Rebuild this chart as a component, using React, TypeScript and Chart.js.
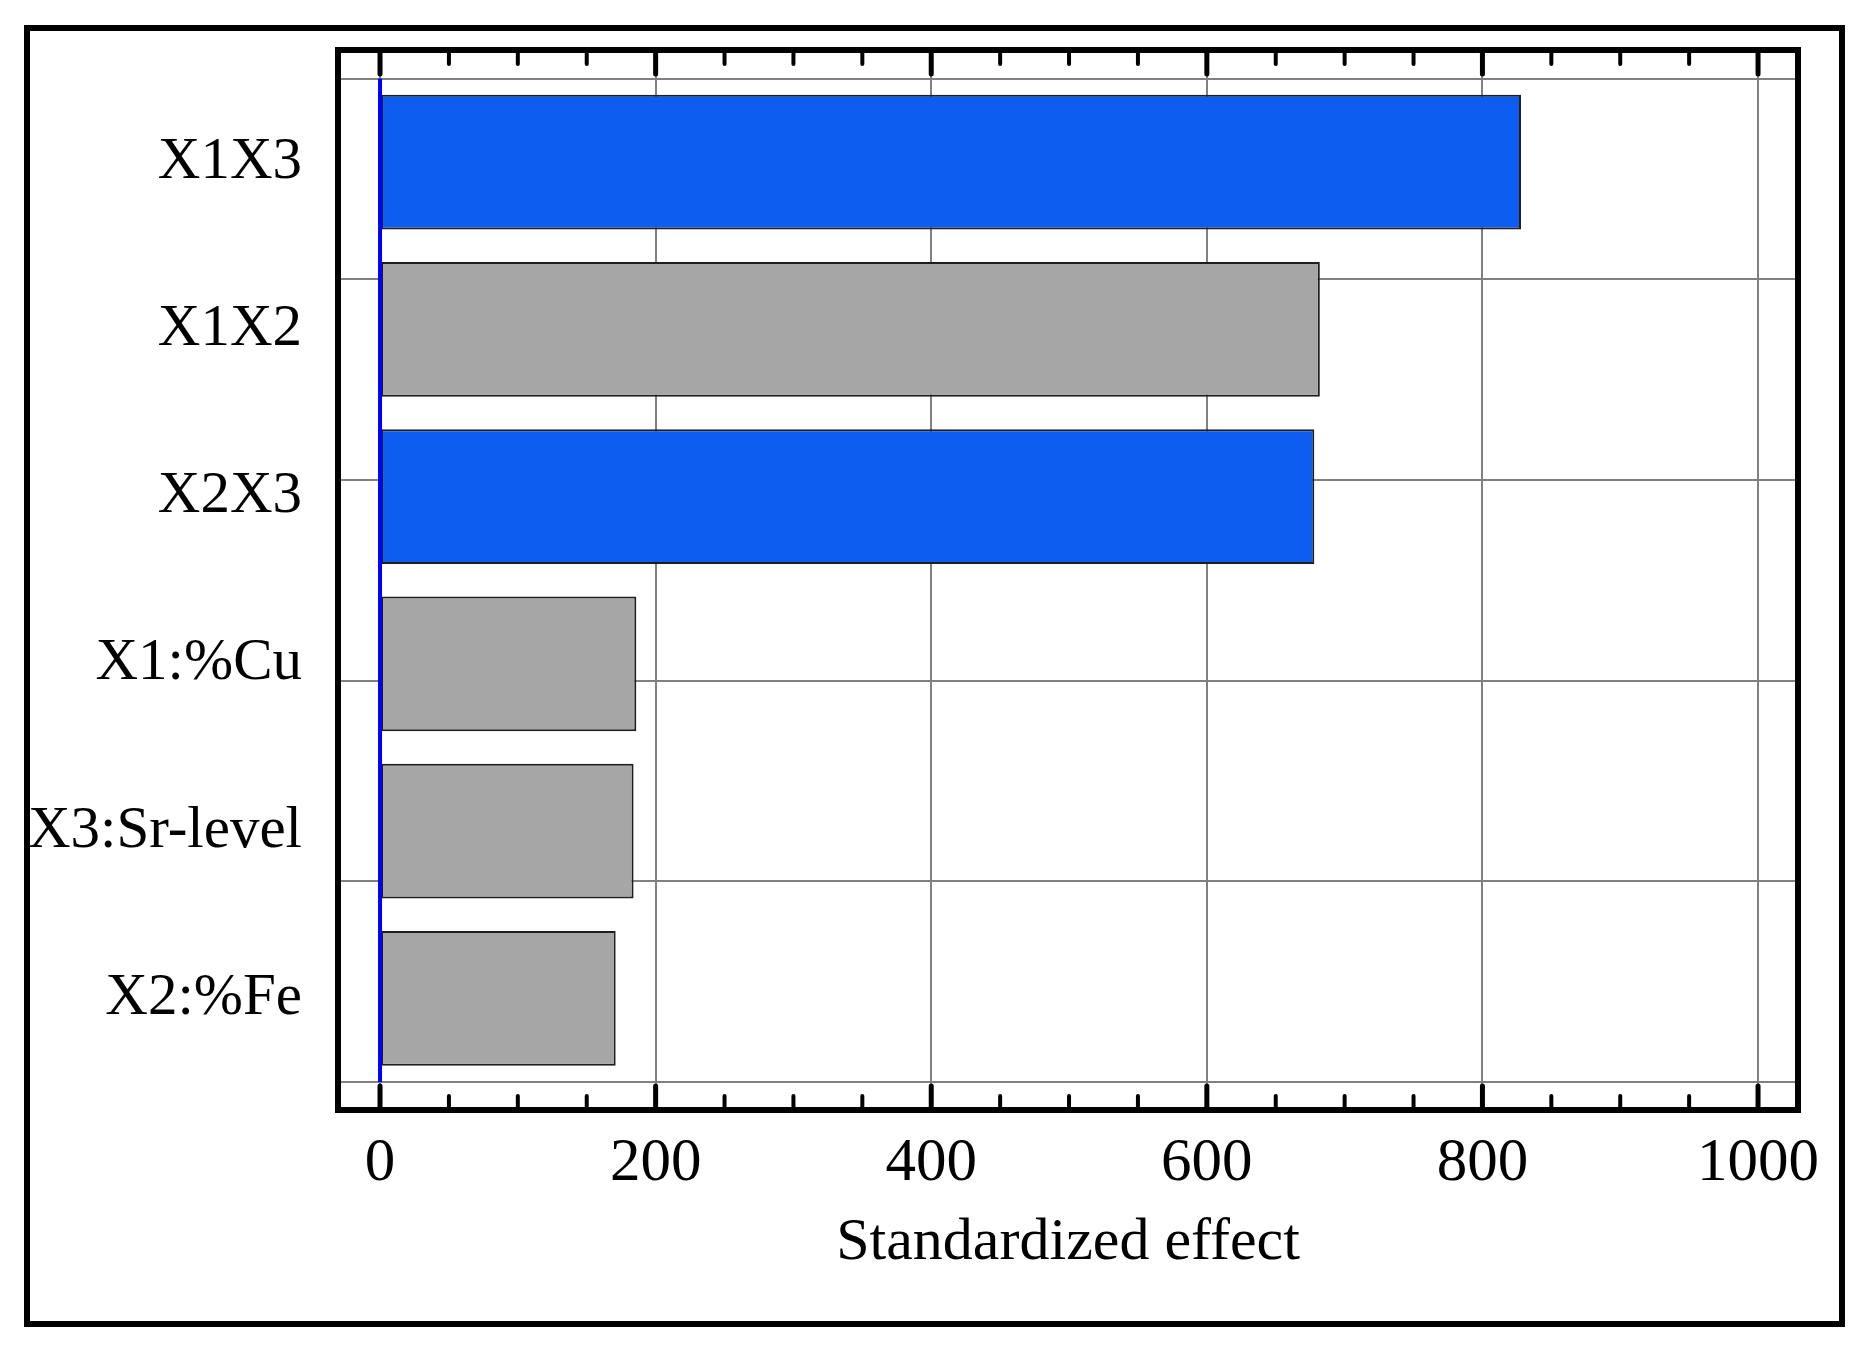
import React, { useEffect, useRef } from "react";
import { Chart, registerables } from "chart.js";

Chart.register(...registerables);

const categories = ["X1X3", "X1X2", "X2X3", "X1:%Cu", "X3:Sr-level", "X2:%Fe"];
const effects = [828, 682, 678, 186, 184, 171];
const barColors = ["#0d5ef0", "#a6a6a6", "#0d5ef0", "#a6a6a6", "#a6a6a6", "#a6a6a6"];
const xTickValues = [0, 200, 400, 600, 800, 1000];
const xMinorStep = 50;
const xMin = -30.5;
const xMax = 1029;
const hGridDivisions = 5;
const xTitle = "Standardized effect";

const FONT = "'Liberation Serif', 'Times New Roman', serif";

const zeroPad = (scale: any) => {
  scale.paddingTop = 0;
  scale.paddingBottom = 0;
  scale.paddingLeft = 0;
  scale.paddingRight = 0;
};

const framePlugin = {
  id: "framePlugin",
  beforeDraw(chart: any) {
    const ctx = chart.ctx;
    ctx.save();
    ctx.fillStyle = "#ffffff";
    ctx.fillRect(0, 0, chart.width, chart.height);
    ctx.restore();
  },
  afterDatasetsDraw(chart: any) {
    const ctx = chart.ctx;
    const { left, right, top, bottom } = chart.chartArea;
    const xs = chart.scales.x;
    const ys = chart.scales.y;
    ctx.save();
    // zero line
    const x0 = xs.getPixelForValue(0);
    ctx.strokeStyle = "#0000ff";
    ctx.lineWidth = 4;
    ctx.beginPath();
    ctx.moveTo(x0, ys.getPixelForValue(-0.5));
    ctx.lineTo(x0, ys.getPixelForValue(categories.length - 0.5));
    ctx.stroke();

    // plot frame
    ctx.strokeStyle = "#000000";
    ctx.lineWidth = 6;
    ctx.strokeRect(left, top, right - left, bottom - top);

    // ticks inside frame (top and bottom)
    ctx.lineCap = "round";
    const first = xTickValues[0];
    const last = xTickValues[xTickValues.length - 1];
    for (let v = first; v <= last; v += xMinorStep) {
      const major = xTickValues.includes(v);
      const len = major ? 21 : 11;
      const px = xs.getPixelForValue(v);
      ctx.lineWidth = major ? 5 : 4;
      ctx.beginPath();
      ctx.moveTo(px, top + 3);
      ctx.lineTo(px, top + 3 + len);
      ctx.stroke();
      ctx.beginPath();
      ctx.moveTo(px, bottom - 3);
      ctx.lineTo(px, bottom - 3 - len);
      ctx.stroke();
    }

    // outer border
    ctx.lineCap = "butt";
    ctx.lineWidth = 6;
    ctx.strokeRect(27, 28, 1842 - 27, 1324 - 28);
    ctx.restore();
  },
};

export default function App() {
  const ref = useRef<HTMLCanvasElement | null>(null);

  useEffect(() => {
    if (!ref.current) return;
    const yMin = -0.5 - 0.1705;
    const yMax = categories.length - 0.5 + 0.1675;
    const chart = new Chart(ref.current, {
      type: "bar",
      data: {
        datasets: [
          {
            data: effects.map((v, i) => ({ x: v, y: i })),
            backgroundColor: barColors,
            borderColor: "#1e1e1e",
            borderWidth: 2,
            borderSkipped: false,
            barPercentage: 0.805,
            categoryPercentage: 1,
          },
        ],
      },
      options: {
        animation: false,
        responsive: false,
        indexAxis: "y",
        layout: { padding: { left: 0, right: 0, top: 50, bottom: 0 } },
        plugins: {
          legend: { display: false },
          tooltip: { enabled: false },
        },
        scales: {
          x: {
            type: "linear",
            position: "bottom",
            min: xMin,
            max: xMax,
            offset: false,
            afterBuildTicks: (scale: any) => {
              scale.ticks = xTickValues.map((v) => ({ value: v }));
            },
            afterFit: (scale: any) => {
              scale.height = 240;
              zeroPad(scale);
            },
            grid: { color: "#808080", lineWidth: 2, drawTicks: false, offset: false },
            border: { display: false },
            ticks: {
              color: "#000",
              font: { family: FONT, size: 61 },
              padding: 17,
              maxRotation: 0,
              autoSkip: false,
              callback: (v: any) => String(v),
            },
            title: {
              display: true,
              text: xTitle,
              color: "#000",
              font: { family: FONT, size: 60 },
              padding: { top: 0, bottom: 71 },
            },
          },
          y: {
            type: "linear",
            position: "left",
            reverse: true,
            min: yMin,
            max: yMax,
            offset: false,
            afterBuildTicks: (scale: any) => {
              scale.ticks = categories.map((_, i) => ({ value: i }));
            },
            afterFit: (scale: any) => {
              scale.width = 338;
              zeroPad(scale);
            },
            grid: { display: false, drawTicks: false, offset: false },
            border: { display: false },
            ticks: {
              color: "#000",
              font: { family: FONT, size: 59 },
              padding: 36,
              autoSkip: false,
              callback: (v: any) => categories[v] ?? "",
            },
          },
          y2: {
            type: "linear",
            position: "right",
            reverse: true,
            min: yMin,
            max: yMax,
            offset: false,
            afterBuildTicks: (scale: any) => {
              const span = categories.length / hGridDivisions;
              const t = [];
              for (let k = 0; k <= hGridDivisions; k++) t.push({ value: -0.5 + k * span });
              scale.ticks = t;
            },
            afterFit: (scale: any) => {
              scale.width = 1875 - 1798;
              zeroPad(scale);
            },
            grid: { color: "#808080", lineWidth: 2, drawTicks: false, offset: false },
            border: { display: false },
            ticks: { display: false },
          },
        },
      } as any,
      plugins: [framePlugin],
    });
    return () => chart.destroy();
  }, []);

  return (
    <div style={{ position: "absolute", left: 0, top: 0, width: 1875, height: 1350 }}>
      <canvas ref={ref} width={1875} height={1350} style={{ width: 1875, height: 1350, display: "block" }} />
    </div>
  );
}
